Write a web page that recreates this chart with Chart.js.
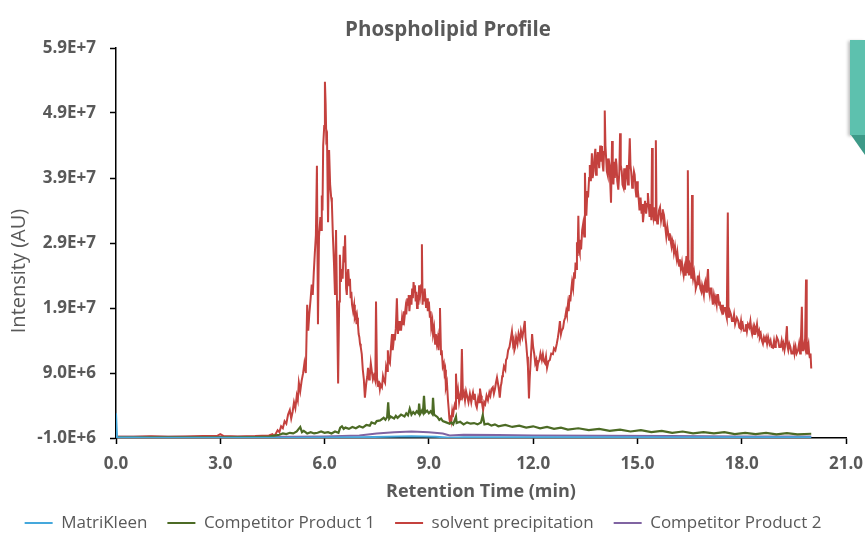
<!DOCTYPE html>
<html>
<head>
<meta charset="utf-8">
<title>Phospholipid Profile</title>
<script src="https://cdn.jsdelivr.net/npm/chart.js@4.4.0/dist/chart.umd.min.js"></script>
<style>
  html, body { margin: 0; padding: 0; background: #fff; }
  #wrap { position: relative; width: 865px; height: 534px; }
  #tab { position: absolute; left: 850px; top: 40px; width: 15px; height: 95px; background: #5dc1ae; box-shadow: -2px 1px 3px rgba(0,0,0,0.25); }
  #tabFold { position: absolute; left: 851px; top: 135px; width: 14px; height: 20px; background: #3d9a88; clip-path: polygon(0 0, 100% 0, 100% 100%); }
</style>
</head>
<body>
<div id="wrap">
  <canvas id="profileChart"></canvas>
  <div id="tab"></div><div id="tabFold"></div>
</div>
<script>
// Axis ticks (x in minutes, y in units of 1E+6 AU)
const xTicks = [0, 3, 6, 9, 12, 15, 18, 21];
const yTicks = [-1, 9, 19, 29, 39, 49, 59];

const seriesNames = ['MatriKleen', 'Competitor Product 1', 'solvent precipitation', 'Competitor Product 2'];
const yTitle = 'Intensity (AU)';

// [retention time (min), intensity (1E+6 AU)]
const matriPoints = [[0, 2.8], [0.03, -0.9], [1, -0.95], [3, -0.95], [5, -0.95], [7, -0.9], [7.8, -0.8], [8.5, -0.75],
  [9.2, -0.8], [9.6, -0.95], [10, -0.9], [12, -0.9], [15, -0.9], [18, -0.9], [20, -0.9]];

const comp1Points = [[0, -0.9], [1, -0.9], [2, -0.9], [3, -0.9], [4, -0.85], [4.4, -0.8], [4.6, -0.6], [4.7, -0.5], [4.8, -0.3],
  [4.9, -0.4], [5.0, -0.2], [5.1, -0.3], [5.2, 0.0], [5.3, 0.7], [5.35, -0.1], [5.4, 0.1], [5.5, -0.3], [5.6, -0.1], [5.7, -0.3],
  [5.8, -0.2], [5.9, 0.0], [6.0, -0.2], [6.1, -0.1], [6.2, -0.3], [6.3, 0.0], [6.4, -0.2], [6.45, 0.6], [6.5, 0.8], [6.55, 0.4],
  [6.6, 0.6], [6.7, 0.4], [6.8, 0.7], [6.9, 0.5], [7.0, 0.8], [7.1, 0.6], [7.2, 1.0], [7.3, 0.9], [7.35, 1.4], [7.45, 1.2],
  [7.5, 1.6], [7.6, 1.7], [7.7, 2.1], [7.75, 1.8], [7.8, 2.2], [7.83, 4.5], [7.86, 2.0], [7.9, 2.3], [8.0, 2.0], [8.05, 2.4],
  [8.1, 2.1], [8.2, 2.6], [8.3, 2.3], [8.35, 2.8], [8.4, 2.5], [8.45, 3.5], [8.5, 2.6], [8.55, 3.0], [8.6, 2.7], [8.65, 3.1],
  [8.7, 2.8], [8.72, 4.3], [8.75, 2.7], [8.8, 3.2], [8.83, 2.9], [8.86, 5.5], [8.89, 2.9], [8.95, 3.2], [9.0, 2.8], [9.05, 3.1],
  [9.1, 2.7], [9.12, 5.2], [9.15, 2.6], [9.2, 2.4], [9.25, 2.2], [9.3, 1.8], [9.35, 2.0], [9.4, 1.6], [9.5, 1.4], [9.6, 1.2],
  [9.65, 1.4], [9.7, 1.1], [9.78, 2.3], [9.8, 1.3], [9.9, 1.5], [10.0, 1.1], [10.1, 1.4], [10.2, 1.2], [10.3, 1.3], [10.4, 1.1],
  [10.5, 1.4], [10.55, 2.5], [10.6, 1.1], [10.7, 1.2], [10.8, 0.9], [10.9, 1.1], [11.0, 0.8], [11.2, 1.0], [11.4, 0.7], [11.6, 0.9],
  [11.8, 0.6], [12.0, 0.8], [12.2, 0.5], [12.4, 0.7], [12.6, 0.4], [12.8, 0.6], [13.0, 0.3], [13.3, 0.5], [13.6, 0.2], [13.9, 0.4],
  [14.2, 0.1], [14.5, 0.3], [14.8, 0.0], [15.1, 0.2], [15.4, -0.1], [15.7, 0.1], [16.0, -0.2], [16.3, 0.0], [16.6, -0.3], [16.9, -0.1],
  [17.2, -0.3], [17.5, -0.1], [17.8, -0.4], [18.1, -0.2], [18.4, -0.4], [18.7, -0.2], [19.0, -0.45], [19.3, -0.25], [19.6, -0.45], [20.0, -0.35]];

const solventPoints = [[0, -0.8], [0.5, -0.8], [1.0, -0.75], [1.5, -0.8], [2.0, -0.75], [2.5, -0.7], [2.9, -0.7], [3.0, -0.4], [3.1, -0.7],
  [3.5, -0.75], [4.0, -0.7], [4.4, -0.6], [4.5, -0.4], [4.55, -0.7], [4.6, -0.3], [4.65, 0.2], [4.7, -0.1], [4.75, 0.8], [4.8, 0.5],
  [4.85, 1.6], [4.9, 1.2], [4.95, 2.6], [5.0, 3.3], [5.04, 2.0], [5.08, 3.0], [5.12, 4.5], [5.16, 3.6], [5.2, 5.5], [5.23, 4.8],
  [5.26, 7.5], [5.3, 6.2], [5.34, 7.8], [5.38, 8.9], [5.42, 10.5], [5.46, 9.0], [5.5, 19.5], [5.53, 15.5], [5.56, 18], [5.6, 20.5],
  [5.63, 22.6], [5.66, 21], [5.69, 24.5], [5.72, 27.5], [5.75, 30.2], [5.78, 40.9], [5.81, 16.5], [5.84, 30], [5.88, 33], [5.9, 31],
  [5.92, 36.3], [5.94, 34], [5.96, 44], [5.99, 47], [6.01, 53.8], [6.03, 50.5], [6.05, 45], [6.07, 45.4], [6.1, 32.2], [6.13, 43.3],
  [6.16, 38], [6.19, 36], [6.21, 35.2], [6.24, 30], [6.27, 26], [6.3, 21], [6.33, 31], [6.36, 19], [6.39, 7.4], [6.42, 20],
  [6.44, 27.2], [6.47, 23], [6.5, 25], [6.52, 23.5], [6.55, 28.5], [6.57, 26], [6.59, 30.2], [6.62, 22], [6.64, 21], [6.66, 24],
  [6.68, 25], [6.71, 22.5], [6.73, 23.5], [6.75, 20.5], [6.77, 21.5], [6.79, 19.5], [6.82, 18.5], [6.85, 19.5], [6.87, 17.5], [6.9, 18],
  [6.92, 16.5], [6.94, 17.5], [6.96, 16.5], [6.98, 15], [7.0, 14.5], [7.02, 13.5], [7.04, 13], [7.07, 11.9], [7.1, 9.5], [7.13, 8],
  [7.16, 5.2], [7.2, 7.5], [7.23, 8.5], [7.25, 9.8], [7.28, 8], [7.3, 8.5], [7.33, 10.5], [7.36, 9.2], [7.39, 8], [7.42, 8.6],
  [7.46, 7.8], [7.48, 20], [7.51, 8.2], [7.54, 7], [7.56, 7.8], [7.59, 6.5], [7.61, 7.2], [7.65, 6.8], [7.68, 8.5], [7.7, 8],
  [7.74, 7.5], [7.77, 10], [7.8, 9.3], [7.82, 12.5], [7.84, 11], [7.88, 10.5], [7.91, 13], [7.94, 15], [7.96, 12.5], [7.98, 13.5],
  [8.0, 15], [8.02, 14], [8.05, 15.9], [8.08, 20.5], [8.11, 15], [8.14, 17], [8.16, 15.5], [8.18, 17], [8.2, 15.5], [8.23, 17.5],
  [8.26, 16.5], [8.28, 18.5], [8.3, 17.5], [8.33, 19], [8.35, 18], [8.38, 20.5], [8.4, 19.5], [8.42, 21], [8.44, 18.5], [8.46, 20],
  [8.48, 21], [8.5, 19.5], [8.52, 22], [8.54, 20.5], [8.56, 23], [8.58, 21.5], [8.6, 22.5], [8.62, 20], [8.64, 21.5], [8.66, 19],
  [8.68, 21], [8.7, 19.5], [8.72, 22.5], [8.75, 21], [8.78, 22.5], [8.8, 28.8], [8.82, 19.5], [8.84, 21.5], [8.86, 20], [8.88, 22],
  [8.9, 20.5], [8.92, 19], [8.95, 20.5], [8.97, 18.5], [9.0, 20], [9.03, 17.5], [9.05, 18.5], [9.07, 16], [9.1, 17], [9.12, 15],
  [9.15, 16], [9.18, 13.5], [9.2, 15], [9.23, 13.5], [9.26, 14.5], [9.28, 12.5], [9.3, 15], [9.32, 19], [9.35, 11.9], [9.37, 12.5],
  [9.4, 10], [9.43, 10.5], [9.45, 9], [9.47, 9.5], [9.49, 6.8], [9.52, 7.5], [9.55, 4.8], [9.57, 3.5], [9.59, 2.0], [9.61, 1.3],
  [9.63, 2.5], [9.65, 1.8], [9.67, 3.0], [9.69, 2.2], [9.72, 3.5], [9.74, 4], [9.76, 3.5], [9.78, 8.9], [9.81, 5], [9.84, 6.3],
  [9.87, 4.5], [9.9, 5.5], [9.92, 4.8], [9.95, 12.7], [9.98, 5.5], [10.01, 6], [10.04, 4.8], [10.07, 6.2], [10.1, 5.5], [10.14, 4.5],
  [10.18, 5.8], [10.22, 4.5], [10.25, 5.5], [10.27, 6.0], [10.3, 5], [10.32, 5.8], [10.35, 4.2], [10.38, 3.7], [10.42, 5.2], [10.45, 4.5],
  [10.47, 6.6], [10.5, 5.5], [10.52, 4.8], [10.54, 4.0], [10.56, 3.3], [10.59, 4.5], [10.62, 4.2], [10.66, 5.5], [10.7, 4.8], [10.74, 6.0],
  [10.77, 5.5], [10.8, 6.5], [10.84, 6.8], [10.87, 5.8], [10.9, 6.5], [10.93, 7.5], [10.96, 8.3], [11.0, 7], [11.02, 6.2], [11.04, 5.2],
  [11.07, 7.0], [11.09, 7.5], [11.11, 8.5], [11.13, 8.9], [11.16, 10], [11.2, 9.5], [11.22, 11], [11.25, 11.3], [11.28, 12.5], [11.32, 13],
  [11.35, 14], [11.39, 15.4], [11.42, 13.5], [11.44, 14], [11.46, 12.5], [11.48, 12.9], [11.51, 14.5], [11.55, 13.5], [11.58, 15], [11.62, 14],
  [11.65, 15.5], [11.69, 14.5], [11.72, 15.5], [11.76, 17], [11.78, 14.5], [11.8, 13.5], [11.83, 11.5], [11.85, 10], [11.88, 5.1], [11.9, 8],
  [11.92, 10], [11.95, 13], [11.97, 15], [12.0, 13], [12.03, 12], [12.06, 10.5], [12.09, 11], [12.11, 9.3], [12.14, 10.5], [12.18, 11],
  [12.21, 12], [12.25, 11], [12.28, 11.9], [12.31, 10.8], [12.34, 10.5], [12.37, 11.5], [12.4, 9.8], [12.44, 10.8], [12.48, 11], [12.52, 12],
  [12.57, 11.9], [12.6, 12.8], [12.64, 12.5], [12.68, 13.5], [12.71, 14.4], [12.74, 15.5], [12.77, 17], [12.8, 15], [12.82, 15.5], [12.86, 15.9],
  [12.89, 17], [12.92, 17.5], [12.95, 18.5], [12.97, 18], [13.0, 19.5], [13.02, 18.5], [13.05, 21], [13.07, 20], [13.1, 22], [13.12, 23],
  [13.15, 22], [13.18, 24.5], [13.2, 23.5], [13.22, 26], [13.24, 25], [13.26, 29.1], [13.28, 27], [13.3, 33.2], [13.32, 28], [13.34, 27.5],
  [13.36, 29.5], [13.38, 28], [13.41, 31], [13.44, 32], [13.47, 30], [13.49, 39.8], [13.51, 35], [13.53, 33.2], [13.56, 37], [13.58, 36],
  [13.61, 39], [13.63, 41], [13.66, 38.5], [13.69, 42.8], [13.71, 39], [13.74, 40], [13.76, 42], [13.79, 43.5], [13.81, 39.5], [13.83, 40.9],
  [13.86, 43], [13.88, 42], [13.9, 40.5], [13.93, 44], [13.95, 41.5], [13.98, 43.9], [14.0, 41], [14.02, 40], [14.04, 43], [14.06, 49.4],
  [14.08, 44], [14.1, 42], [14.12, 40], [14.15, 39.3], [14.17, 42], [14.2, 41], [14.22, 38], [14.24, 35.2], [14.27, 44.7], [14.29, 40],
  [14.31, 38], [14.33, 41.5], [14.35, 39], [14.38, 42], [14.4, 41], [14.42, 38.5], [14.45, 37.2], [14.48, 40], [14.5, 45.9], [14.52, 41],
  [14.55, 40], [14.57, 38], [14.6, 37.5], [14.62, 40.5], [14.64, 37.2], [14.67, 39.5], [14.7, 41], [14.73, 38], [14.75, 40], [14.78, 45.1],
  [14.8, 41], [14.82, 40], [14.85, 37.5], [14.87, 38.3], [14.9, 40], [14.92, 39.5], [14.95, 37], [14.97, 36], [14.99, 38.5], [15.01, 37.2],
  [15.04, 35.5], [15.06, 34], [15.09, 36], [15.12, 33.5], [15.14, 35], [15.16, 32.2], [15.19, 34], [15.22, 35.5], [15.25, 33.5], [15.28, 35],
  [15.3, 36.7], [15.33, 34.5], [15.35, 33], [15.38, 35], [15.4, 32.5], [15.42, 43.6], [15.44, 34], [15.46, 33], [15.49, 34.5], [15.51, 32.5],
  [15.53, 44.8], [15.55, 33], [15.57, 32], [15.59, 32.2], [15.62, 34], [15.65, 34.5], [15.68, 32.5], [15.71, 33.5], [15.73, 34.2], [15.76, 31.5],
  [15.78, 32.5], [15.8, 31.5], [15.83, 30], [15.86, 31.5], [15.88, 30.7], [15.91, 29.5], [15.93, 30.5], [15.95, 29.5], [15.98, 28.5], [16.0, 29.5],
  [16.02, 29.1], [16.05, 27.5], [16.08, 28.5], [16.1, 27.5], [16.13, 26.5], [16.15, 27.5], [16.17, 26.5], [16.2, 25.5], [16.22, 26.5], [16.25, 25],
  [16.28, 26], [16.3, 25], [16.33, 24], [16.35, 25], [16.37, 24.1], [16.39, 25.5], [16.41, 27], [16.43, 24.5], [16.45, 40.2], [16.47, 25],
  [16.48, 24], [16.51, 25.5], [16.53, 25], [16.55, 23.5], [16.57, 36.4], [16.59, 24], [16.6, 23.5], [16.63, 24.5], [16.66, 23], [16.68, 22],
  [16.71, 22.6], [16.74, 24], [16.76, 22.5], [16.78, 23.5], [16.81, 22], [16.84, 21.5], [16.86, 22.5], [16.88, 22], [16.91, 21], [16.93, 22.5],
  [16.95, 23], [16.98, 21.5], [17.0, 23], [17.03, 25], [17.05, 22], [17.08, 21], [17.1, 22], [17.13, 22], [17.15, 20.5], [17.17, 19.5],
  [17.2, 21], [17.23, 20], [17.25, 20.5], [17.28, 19.5], [17.3, 21], [17.32, 21], [17.35, 19.5], [17.37, 20], [17.39, 19], [17.42, 18.5],
  [17.44, 19.5], [17.46, 18], [17.49, 19], [17.52, 19], [17.55, 18], [17.57, 17.5], [17.6, 33.7], [17.62, 18], [17.63, 17.5], [17.66, 18.5],
  [17.69, 18], [17.72, 17], [17.75, 17], [17.78, 18], [17.81, 16.5], [17.83, 16.5], [17.86, 17.5], [17.9, 17], [17.93, 16], [17.95, 15.9],
  [17.98, 17], [18.0, 16], [18.03, 16.5], [18.06, 15.5], [18.1, 15.5], [18.12, 16.5], [18.15, 15.4], [18.18, 16.5], [18.22, 16], [18.25, 17],
  [18.28, 15.5], [18.3, 15], [18.33, 16], [18.36, 15], [18.38, 16], [18.41, 15.5], [18.44, 16.5], [18.47, 15], [18.5, 15.5], [18.52, 14.5],
  [18.55, 15], [18.58, 14], [18.61, 13.5], [18.64, 14.5], [18.67, 14], [18.7, 14.5], [18.73, 13.5], [18.76, 14.5], [18.8, 13.5], [18.83, 14],
  [18.86, 13], [18.9, 12.9], [18.93, 14], [18.96, 13], [18.98, 13.5], [19.01, 14.5], [19.05, 14], [19.08, 13], [19.12, 13], [19.15, 14],
  [19.18, 13], [19.2, 13.5], [19.23, 12.5], [19.26, 13.5], [19.3, 16.2], [19.32, 13], [19.34, 12.5], [19.37, 13.5], [19.4, 13], [19.43, 12],
  [19.47, 12], [19.5, 13], [19.52, 12], [19.55, 13], [19.58, 12], [19.62, 12.5], [19.65, 13.5], [19.68, 12], [19.7, 13.5], [19.73, 19.2],
  [19.75, 12.5], [19.77, 12.5], [19.8, 13.5], [19.82, 13], [19.85, 23.4], [19.87, 12.5], [19.88, 12], [19.9, 13], [19.92, 13.5], [19.94, 12],
  [19.96, 11.3], [19.98, 12], [20.0, 9.7]];

const comp2Points = [[0, -0.8], [2, -0.8], [4, -0.8], [5, -0.8], [6, -0.75], [7, -0.6], [7.5, -0.3], [8, -0.1], [8.5, 0.0],
  [9, -0.1], [9.4, -0.3], [9.6, -0.6], [10, -0.5], [11, -0.55], [12, -0.6], [14, -0.65], [16, -0.7], [18, -0.75], [20, -0.75]];

const textGrey = '#595959';
const fontFamily = '"Open Sans", "Noto Sans", sans-serif';
Chart.defaults.font.family = fontFamily;

function toXY(points) {
    return points.map(p => ({ x: p[0], y: p[1] }));
}

function formatIntensity(v) {
    return (v * 1e6).toExponential(1).toUpperCase();
}

// The original's chart title sits right of centre and the y title sits low,
// so nudge the title block and draw the vertical title ourselves
const titlePlacement = {
    id: 'titlePlacement',
    afterLayout(chart) {
        chart.titleBlock.left += 25;
        chart.titleBlock.right += 25;
    },
    afterDraw(chart) {
        const { ctx, chartArea } = chart;
        ctx.save();
        ctx.fillStyle = textGrey;
        ctx.font = '20px ' + fontFamily;
        ctx.textAlign = 'center';
        ctx.textBaseline = 'middle';
        ctx.translate(19.5, (chartArea.top + chartArea.bottom) / 2 + 28);
        ctx.rotate(-Math.PI / 2);
        ctx.fillText(yTitle, 0, 0);
        ctx.restore();
    }
};

const ctx = document.getElementById('profileChart').getContext('2d');

new Chart(ctx, {
    type: 'line',
    data: {
        datasets: [
            { label: seriesNames[0], data: toXY(matriPoints), borderColor: '#45a8dc', backgroundColor: '#45a8dc', borderWidth: 2 },
            { label: seriesNames[1], data: toXY(comp1Points), borderColor: '#4c6b25', backgroundColor: '#4c6b25', borderWidth: 2.2 },
            { label: seriesNames[2], data: toXY(solventPoints), borderColor: '#c4413e', backgroundColor: '#c4413e', borderWidth: 2 },
            { label: seriesNames[3], data: toXY(comp2Points), borderColor: '#8064a2', backgroundColor: '#8064a2', borderWidth: 2 }
        ]
    },
    options: {
        responsive: true,
        maintainAspectRatio: false,
        animation: false,
        layout: { padding: { left: 0, right: 19, top: 0, bottom: 0 } },
        elements: {
            point: { radius: 0 },
            line: { tension: 0 }
        },
        plugins: {
            title: {
                display: true,
                text: 'Phospholipid Profile',
                color: textGrey,
                font: { size: 20.5, weight: 'bold' },
                padding: { top: 17.7, bottom: 5.7 }
            },
            legend: {
                position: 'bottom',
                maxHeight: 39.5,
                labels: {
                    usePointStyle: true,
                    pointStyle: 'line',
                    pointStyleWidth: 28,
                    color: textGrey,
                    font: { size: 17 },
                    padding: 20
                }
            },
            tooltip: { enabled: false }
        },
        scales: {
            x: {
                type: 'linear',
                min: 0,
                max: 21,
                afterBuildTicks: scale => { scale.ticks = xTicks.map(v => ({ value: v })); },
                afterFit: scale => {
                    scale.height = 56.5;
                    // let the last label hang into the layout padding instead of shrinking the plot
                    scale.paddingRight = 0;
                },
                ticks: {
                    callback: v => v.toFixed(1),
                    color: textGrey,
                    font: { size: 17, weight: 'bold' },
                    padding: 10,
                    maxRotation: 0
                },
                grid: { drawOnChartArea: false, tickLength: 6, tickColor: '#000', tickWidth: 1.5 },
                border: { color: '#000', width: 1.5 },
                title: {
                    display: true,
                    text: 'Retention Time (min)',
                    color: textGrey,
                    font: { size: 18, weight: 'bold' },
                    padding: { top: 0, bottom: -8.3 }
                }
            },
            y: {
                type: 'linear',
                min: -1,
                max: 59,
                afterBuildTicks: scale => { scale.ticks = yTicks.map(v => ({ value: v })); },
                afterFit: scale => { scale.width = 116; },
                ticks: {
                    callback: v => formatIntensity(v),
                    color: textGrey,
                    font: { size: 17, weight: 'bold' },
                    padding: 14
                },
                grid: { drawOnChartArea: false, tickLength: 6, tickColor: '#000', tickWidth: 1.5 },
                border: { color: '#000', width: 1.5 }
            }
        }
    },
    plugins: [titlePlacement]
});
</script>
</body>
</html>
